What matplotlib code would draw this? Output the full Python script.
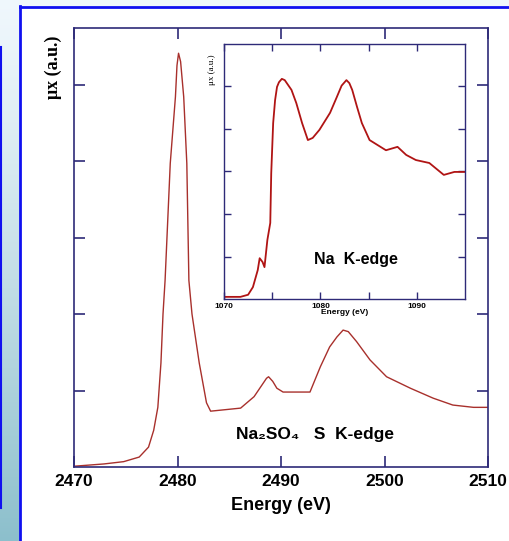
import numpy as np
from matplotlib import pyplot as plt

plt.rcParams['font.family'] = ['Liberation Sans', 'DejaVu Sans']

# S K-edge spectrum of Na2SO4 (main plot)
s_energy = [2470, 2472.9, 2474.8, 2476.3, 2477.2, 2477.7, 2478.1, 2478.4, 2478.6, 2478.8,
            2479.3, 2479.8, 2479.95, 2480.1, 2480.3, 2480.6, 2480.9, 2481.1, 2481.4, 2482.1,
            2482.8, 2483.2, 2486.1, 2487.4, 2488.6, 2488.8, 2489.2, 2489.6, 2490.2, 2492.8,
            2493.8, 2494.7, 2495.4, 2496.0, 2496.5, 2497.3, 2498.6, 2500.2, 2502.5, 2504.7,
            2506.6, 2508.6, 2510]
s_mu = [0.01, 0.04, 0.07, 0.13, 0.26, 0.48, 0.78, 1.36, 2.0, 2.44,
        3.97, 4.84, 5.25, 5.41, 5.30, 4.84, 3.97, 2.44, 2.0, 1.36,
        0.84, 0.73, 0.77, 0.92, 1.16, 1.18, 1.12, 1.03, 0.98, 0.98,
        1.31, 1.57, 1.70, 1.79, 1.77, 1.64, 1.40, 1.18, 1.03, 0.90,
        0.81, 0.78, 0.78]

# Na K-edge spectrum (inset)
na_energy = [1070, 1071.7, 1072.5, 1073.0, 1073.5, 1073.7, 1074.0, 1074.2, 1074.5, 1074.8,
             1074.9, 1075.1, 1075.3, 1075.5, 1075.7, 1076.0, 1076.3, 1077.0, 1077.5, 1078.1,
             1078.7, 1079.2, 1079.9, 1081.0, 1081.7, 1082.2, 1082.7, 1083.0, 1083.3, 1083.8,
             1084.3, 1085.1, 1086.8, 1088.0, 1088.9, 1089.9, 1091.3, 1092.8, 1093.9, 1095.0]
na_mu = [0.05, 0.05, 0.10, 0.28, 0.68, 0.96, 0.87, 0.75, 1.39, 1.79,
         2.96, 4.14, 4.68, 4.99, 5.10, 5.18, 5.15, 4.92, 4.61, 4.14,
         3.74, 3.79, 3.98, 4.38, 4.75, 5.02, 5.15, 5.08, 4.92, 4.52,
         4.14, 3.74, 3.50, 3.58, 3.39, 3.27, 3.20, 2.92, 2.99, 2.99]

main_ticks = [2470, 2480, 2490, 2500, 2510]
inset_ticks = [1070, 1075, 1080, 1085, 1090]
inset_labels = ['1070', '', '1080', '', '1090']

axis_col = '#2e2a78'
W, H = 510, 541
fig = plt.figure(figsize=(5.1, 5.41), dpi=100)
fig.patch.set_facecolor('white')

# slide background: gradient strip on the left, pale strip on top, blue frame
bg = fig.add_axes([0, 0, 1, 1])
bg.axis('off')
grad = np.linspace(0, 1, 256)[:, None]
top_c = np.array([0.94, 0.97, 0.99])
bot_c = np.array([0.55, 0.75, 0.80])
img = top_c + (bot_c - top_c) * grad[:, :, None] ** 1.2
bg.imshow(img, extent=[0, 20, H, 0], aspect='auto')
bg.fill_between([20, W], 0, 7, color='#f0f7fb')
bg.plot([20.5, 20.5], [6, H], color='#1010f0', lw=2)
bg.plot([20, W], [6.5, 6.5], color='#1010f0', lw=2)
bg.plot([1, 1], [47, 508], color='#1010f0', lw=1.5)
bg.set_xlim(0, W)
bg.set_ylim(H, 0)

# main axes
ax = fig.add_axes([74 / W, 1 - 467 / H, 414 / W, 439 / H])
ax.plot(s_energy, s_mu, color='#a8302c', lw=1.0)
ax.set_xlim(2470, 2510)
ax.set_ylim(0, 5.74)
ax.set_xticks(main_ticks)
ax.set_yticks([1, 2, 3, 4, 5])
ax.set_yticklabels([])
ax.tick_params(direction='in', length=8, width=1.2, color=axis_col,
               top=True, right=True, labelsize=12.5, pad=5)
for lbl in ax.get_xticklabels():
    lbl.set_fontweight('bold')
for sp in ax.spines.values():
    sp.set_color(axis_col)
    sp.set_linewidth(1.2)
ax.set_xlabel('Energy (eV)', fontsize=13, fontweight='bold', labelpad=6)
ax.text(2493.3, 0.42, 'Na₂SO₄   S  K-edge', fontsize=12.5, fontweight='bold',
        ha='center', va='center')
fig.text(53 / W, 1 - 67 / H, 'μx (a.u.)', rotation=90, ha='center', va='center',
         family=['Liberation Serif', 'DejaVu Serif'], fontsize=13, fontweight='bold')

# inset axes
ins = fig.add_axes([224 / W, 1 - 299 / H, 241 / W, 255 / H])
ins.plot(na_energy, na_mu, color='#b01414', lw=1.3)
ins.set_xlim(1070, 1095)
ins.set_ylim(0, 6)
ins.set_xticks(inset_ticks)
ins.set_xticklabels(inset_labels)
ins.set_yticks([1, 2, 3, 4, 5])
ins.set_yticklabels([])
ins.tick_params(direction='in', length=5, width=1, color=axis_col,
                top=True, right=True, labelsize=6, pad=3)
for lbl in ins.get_xticklabels():
    lbl.set_fontweight('bold')
for sp in ins.spines.values():
    sp.set_color(axis_col)
    sp.set_linewidth(1)
ins.set_xlabel('Energy (eV)', fontsize=6, fontweight='bold', labelpad=-1)
ins.text(1083.7, 0.93, 'Na  K-edge', fontsize=11.5, fontweight='bold',
         ha='center', va='center')
fig.text(212 / W, 1 - 70 / H, 'μx (a.u.)', rotation=90, ha='center', va='center',
         family=['Liberation Serif', 'DejaVu Serif'], fontsize=6.5)

plt.savefig('out.png', dpi=100)
